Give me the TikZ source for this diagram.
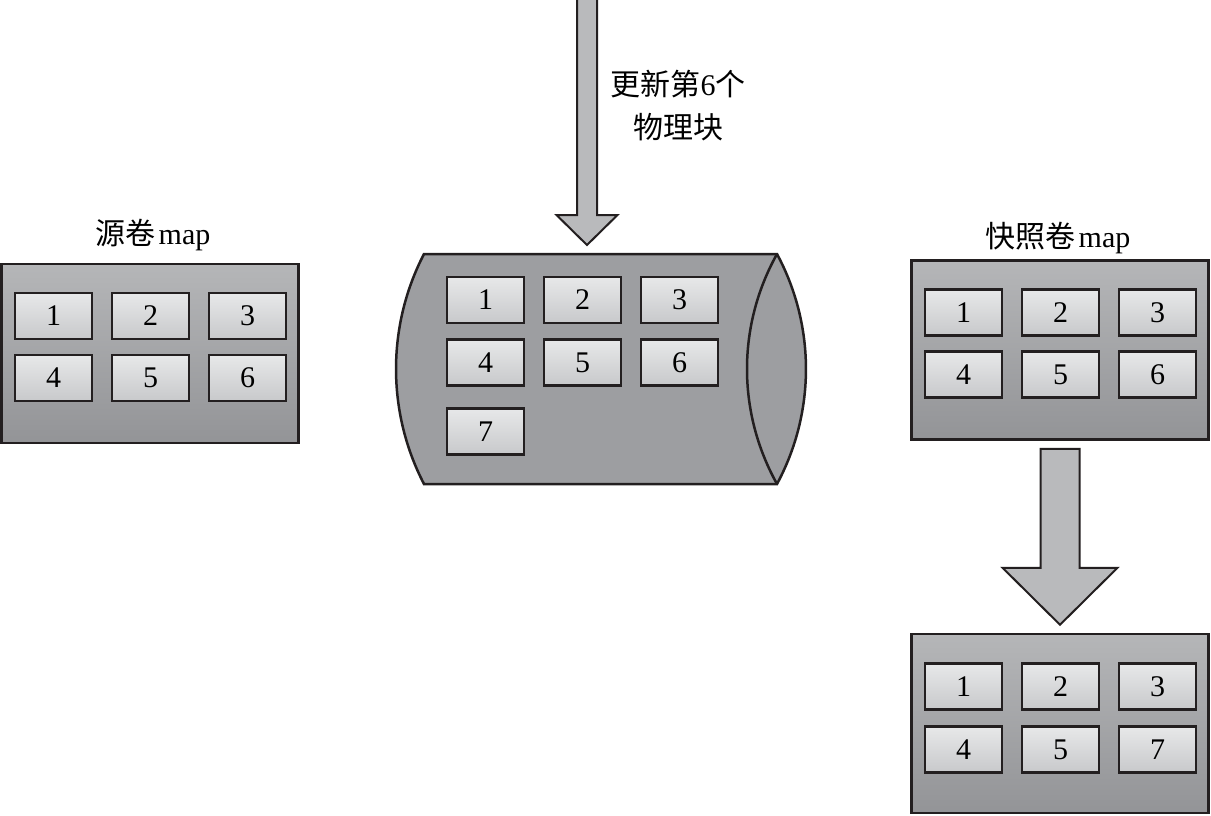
\documentclass[tikz,border=0pt]{standalone}
\usepackage{fontspec}
\setmainfont{Liberation Serif}
\newfontfamily\cjk{Noto Sans CJK SC}
\usetikzlibrary{calc}

\definecolor{boxtop}{HTML}{B5B6B8}
\definecolor{boxbot}{HTML}{939497}
\definecolor{celltop}{HTML}{E7E8E9}
\definecolor{cellbot}{HTML}{C8C9CB}
\definecolor{diskgray}{HTML}{9D9EA1}
\definecolor{arrowgray}{HTML}{B9BABC}
\definecolor{edge}{HTML}{231F20}

\tikzset{
  mapbox/.style={draw=edge, line width=2.5pt, top color=boxtop, bottom color=boxbot,
    minimum width=297pt, minimum height=179pt, inner sep=0pt},
  blk/.style={draw=edge, line width=2.5pt, top color=celltop, bottom color=cellbot,
    minimum width=77pt, minimum height=46pt, inner sep=0pt, font=\fontsize{30}{30}\selectfont},
  maplabel/.style={anchor=base, font=\fontsize{30}{30}\selectfont},
  arrowbox/.style={draw=edge, line width=2pt, fill=arrowgray, line join=miter},
}

% #1 start, #2 tip, #3 half shaft, #4 half head, #5 head length
\newcommand{\blockarrow}[5]{%
  \draw[arrowbox] ($(#1)+(-#3,0)$) -- ($(#2)+(-#3,-#5)$) -- ($(#2)+(-#4,-#5)$) -- (#2)
    -- ($(#2)+(#4,-#5)$) -- ($(#2)+(#3,-#5)$) -- ($(#1)+(#3,0)$) -- cycle;}

\begin{document}
\begin{tikzpicture}[x=1pt, y=-1pt]
    \useasboundingbox (0,0) rectangle (1211,815);

    % Map del volume sorgente
    \node[maplabel] (srclbl) at (153,244) {{\cjk 源卷}\kern3pt map};
    \node[mapbox] (src) at (150,353.5) {};
    \foreach \n/\c/\r in {1/0/0,2/1/0,3/2/0,4/0/1,5/1/1,6/2/1}
        \node[blk] (src\n) at ({53.5+97*\c},{316+62*\r}) {\n};

    % Disco (blocchi fisici)
    \draw[draw=edge, line width=2.5pt, fill=diskgray] (424,254) -- (777,254)
        .. controls (815.6,325.8) and (815.6,412.2) .. (777,484) -- (424,484)
        .. controls (386.7,412.2) and (386.7,325.8) .. (424,254) -- cycle;
    \draw[edge, line width=2.5pt] (777,254) .. controls (737,325.8) and (737,412.2) .. (777,484);
    \foreach \n/\c/\r in {1/0/300,2/1/300,3/2/300,4/0/362.5,5/1/362.5,6/2/362.5,7/0/431.5}
        \node[blk] (disk\n) at ({485.5+97*\c},\r) {\n};

    % Freccia di scrittura
    \coordinate (feed) at (587,-5);
    \coordinate (disktip) at (587,245);
    \blockarrow{feed}{disktip}{10}{30.5}{30}
    \node[font=\fontsize{30}{43}\selectfont, align=center] (upd) at (678,106)
        {\cjk 更新第{\rmfamily 6}个\\\cjk 物理块};

    % Map del volume snapshot
    \node[maplabel] (snaplbl) at (1058,247) {{\cjk 快照卷}\kern3pt map};
    \node[mapbox] (snap) at (1060,350) {};
    \foreach \n/\c/\r in {1/0/0,2/1/0,3/2/0,4/0/1,5/1/1,6/2/1}
        \node[blk] (snap\n) at ({963.5+97*\c},{312.5+62*\r}) {\n};

    % Map aggiornata
    \node[mapbox] (copy) at (1060,723.5) {};
    \foreach \n/\c/\r/\t in {1/0/0/1,2/1/0/2,3/2/0/3,4/0/1/4,5/1/1/5,6/2/1/7}
        \node[blk] (copy\n) at ({963.5+97*\c},{686.5+63*\r}) {\t};

    \coordinate (snapout) at ($(snap.south)+(0,8)$);
    \coordinate (copyin) at ($(copy.north)+(0,-8)$);
    \blockarrow{snapout}{copyin}{19.5}{57.5}{57}
\end{tikzpicture}
\end{document}
